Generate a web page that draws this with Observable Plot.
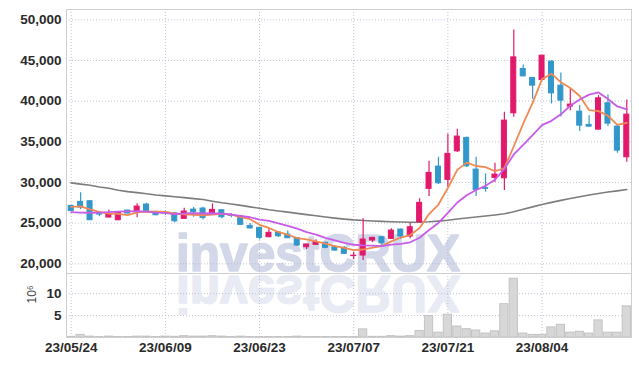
<!DOCTYPE html>
<html><head><meta charset="utf-8">
<script src="https://cdn.jsdelivr.net/npm/d3@7"></script>
<script src="https://cdn.jsdelivr.net/npm/@observablehq/plot@0.6"></script>
<style>
body{margin:0;background:#fff;}
#chart{width:639px;height:366px;}
#chart svg{display:block;}
</style></head><body><div id="chart"></div>
<script>
const dates = ["23/05/24","23/05/25","23/05/26","23/05/30","23/05/31","23/06/01","23/06/02","23/06/05","23/06/07","23/06/08",
"23/06/09","23/06/12","23/06/13","23/06/14","23/06/15","23/06/16","23/06/19","23/06/20","23/06/21","23/06/22",
"23/06/23","23/06/26","23/06/27","23/06/28","23/06/29","23/06/30","23/07/03","23/07/04","23/07/05","23/07/06",
"23/07/07","23/07/10","23/07/11","23/07/12","23/07/13","23/07/14","23/07/17","23/07/18","23/07/19","23/07/20",
"23/07/21","23/07/24","23/07/25","23/07/26","23/07/27","23/07/28","23/07/31","23/08/01","23/08/02","23/08/03",
"23/08/04","23/08/07","23/08/08","23/08/09","23/08/10","23/08/11","23/08/14","23/08/16","23/08/17","23/08/18"];
const open = [27125,27617,27690,26100,25690,25356,26546,26388,27285,26388,26250,26216,25528,26670,26794,26020,26585,26000,25774,24668,
24422,23268,23845,23600,23145,22040,22334,22580,22040,21966,20950,21020,22862,23268,23071,24214,23354,25111,29214,31950,
30319,33833,35479,31585,29300,30565,30516,38501,43956,42850,42604,44853,41904,39324,38710,37076,36499,39730,36867,33096];
const high = [27150,28722,27777,26400,26585,26350,26600,27371,27450,26450,26500,26250,26830,26917,26950,27371,26650,26200,25850,24950,
24500,24300,23950,24050,23200,22400,22948,22654,22250,22125,21425,25528,23268,23354,24300,24275,24988,27985,32605,33096,
35971,36536,35600,33096,31057,32359,38624,48747,44447,42880,45600,44975,43464,41499,39450,38218,40676,40762,36990,40147];
const low = [26450,26670,25330,25800,25650,25300,26150,25650,26480,25900,25950,25037,25500,25725,25400,25980,25528,25650,24750,24300,
22950,23200,23250,23100,22150,21757,22300,21843,21510,21143,20490,20405,22617,22248,22985,23022,23071,25000,28268,29742,
29410,33680,31830,28268,28796,30025,29005,38010,43010,40245,42520,39656,38050,38833,36253,36781,36440,36867,33587,32482];
const close = [26486,26917,25356,26050,26057,26300,26180,27039,26511,25970,26200,25233,26425,26340,25651,26634,25725,25900,24791,24350,
23194,23808,23390,23145,22248,22371,22654,21966,21634,21229,21000,22985,23194,22531,24091,23354,24496,27494,31180,29902,
33514,35639,31990,29091,29214,30970,37604,45381,43047,41904,45590,40958,40061,39570,36990,36867,40344,37236,33919,38341];
// volume, millions of shares
const volume = [0.15,0.6,0.2,0.1,0.2,0.1,0.1,0.2,0.2,0.1,0.2,0.15,0.3,0.2,0.2,0.3,0.2,0.1,0.2,0.1,
0.1,0.1,0.1,0.1,0.2,0.1,0.1,0.1,0.1,0.1,0.1,1.85,0.15,0.15,0.3,0.2,0.3,1.5,4.9,1.1,
5.2,2.5,1.9,1.6,0.9,1.4,7.6,13.4,0.9,0.6,0.6,2.3,2.9,1.1,1.3,0.9,3.9,1.1,1.1,7.1];
const ma5 = [27000,27050,26700,26400,26173,26136,25989,26325,26417,26400,26380,26191,26068,26034,25970,26057,26155,26050,25740,25480,
24792,24409,23907,23577,23157,22992,22762,22477,22175,21971,21693,21759,22004,22184,22756,23231,23533,24393,26123,27285,
29317,31546,32445,32027,31890,31381,31774,34452,37243,39781,42705,43376,42312,41617,40634,38889,38766,38201,37071,37341];
const ma10 = [26350,26300,26280,26300,26350,26420,26450,26460,26420,26287,26258,26090,26197,26226,26185,26218,26173,26059,25887,25725,
25424,25282,24978,24659,24319,23892,23585,23192,22876,22564,22343,22260,22241,22179,22364,22462,22646,23199,24153,25021,
26274,27540,28419,29075,29587,30349,31660,33449,34635,35835,37043,37575,38382,39430,40208,40797,41071,40257,39344,38988];
const maLong = [29950,29800,29650,29450,29280,29050,28880,28750,28620,28470,28350,28250,28140,28020,27900,27700,27500,27350,27180,27000,
26830,26650,26500,26350,26200,26050,25900,25750,25620,25500,25400,25330,25270,25220,25180,25140,25110,25120,25170,25250,
25350,25500,25630,25750,25870,26000,26150,26400,26700,27000,27300,27550,27800,28030,28250,28450,28650,28820,28970,29130];
const priceTicks = [20000,25000,30000,35000,40000,45000,50000];
const volumeTicks = [5,10];
const dateTickIdx = [0,10,20,30,40,50];
const watermark = "investCRUX";

const rows = dates.map((d,i)=>({date:d, open:open[i], high:high[i], low:low[i], close:close[i],
  volume:volume[i], ma5:ma5[i], ma10:ma10[i], maLong:maLong[i], up: close[i] >= open[i]}));
const ups = rows.filter(r=>r.up), downs = rows.filter(r=>!r.up);
const dateTicks = dateTickIdx.map(i=>dates[i]);

const UP = "#e2196b", DOWN = "#3297cb";
const FONT = "'Liberation Sans', Arial, sans-serif";
const GRID = {stroke:"#aab0c8", strokeOpacity:0.75, strokeDasharray:"1,2"};
const xOpt = {type:"band", domain:dates, padding:0, round:false, axis:null};
const style = {fontFamily:FONT, fontSize:"13.5px", color:"#2a2a2a", background:"#fff"};

const price = Plot.plot({
  width:639, height:273, marginTop:9, marginBottom:0, marginLeft:66, marginRight:8,
  style, x:xOpt,
  y:{domain:[18810, 51265], axis:null},
  marks:[
    Plot.gridX(dateTicks, GRID),
    Plot.gridY(priceTicks, GRID),
    Plot.axisY(priceTicks, {tickSize:0, tickPadding:5, tickFormat:d3.format(","), fontWeight:"bold", label:null}),
    Plot.frame({stroke:"#cfcfcf"}),
    Plot.lineY(rows, {x:"date", y:"maLong", stroke:"#7d7d7d", strokeWidth:1.6}),
    Plot.ruleX(ups, {x:"date", y1:"low", y2:"high", stroke:UP, strokeWidth:1.2}),
    Plot.ruleX(downs, {x:"date", y1:"low", y2:"high", stroke:DOWN, strokeWidth:1.2}),
    Plot.barY(ups, {x:"date", y1:"open", y2:"close", fill:UP, stroke:UP, strokeWidth:1, insetLeft:2.2, insetRight:2.2}),
    Plot.barY(downs, {x:"date", y1:"open", y2:"close", fill:DOWN, stroke:DOWN, strokeWidth:1, insetLeft:2.2, insetRight:2.2}),
    Plot.lineY(rows, {x:"date", y:"ma5", stroke:"#f08a52", strokeWidth:1.8}),
    Plot.lineY(rows, {x:"date", y:"ma10", stroke:"#c75ce6", strokeWidth:1.8})
  ]
});

const vol = Plot.plot({
  width:639, height:93, marginTop:0, marginBottom:29, marginLeft:66, marginRight:8,
  style, x:xOpt,
  y:{domain:[0, 14.6], axis:null},
  marks:[
    Plot.gridX(dateTicks, GRID),
    Plot.gridY(volumeTicks, GRID),
    Plot.axisY(volumeTicks, {tickSize:0, tickPadding:5, tickFormat:d=>String(d), fontWeight:"bold", label:null}),
    Plot.axisX(dateTicks, {tickSize:0, tickPadding:5, fontWeight:"bold", label:null}),
    Plot.barY(rows, {x:"date", y:"volume", fill:"#d7d7d7", stroke:"#c3c3c3", strokeWidth:1, insetLeft:0.6, insetRight:0.6}),
    Plot.frame({stroke:"#cfcfcf"}),
    Plot.text(["10⁶"], {frameAnchor:"left", dx:-34, dy:-2, rotate:-90, fontSize:12, fill:"#444"})
  ]
});

function addMark(svg, mirrored){
  const ns = "http://www.w3.org/2000/svg";
  const t = document.createElementNS(ns, "text");
  t.textContent = watermark;
  t.setAttribute("x", 176);
  t.setAttribute("y", mirrored ? -3 : 271);
  t.setAttribute("text-anchor", "start");
  t.setAttribute("font-family", FONT);
  t.setAttribute("font-weight", "bold");
  t.setAttribute("font-size", 52);
  t.setAttribute("textLength", 284);
  t.setAttribute("lengthAdjust", "spacingAndGlyphs");
  const c = mirrored ? "#e8ebf3" : "#d3d8e9";
  t.setAttribute("fill", c);
  t.setAttribute("stroke", c);
  t.setAttribute("stroke-width", 1.6);
  t.setAttribute("stroke-linejoin", "round");
  if (mirrored) t.setAttribute("transform", "scale(1,-1)");
  const first = svg.querySelector("g");
  svg.insertBefore(t, first);
}
addMark(price, false);
addMark(vol, true);

const el = document.getElementById("chart");
el.appendChild(price);
el.appendChild(vol);
</script></body></html>
